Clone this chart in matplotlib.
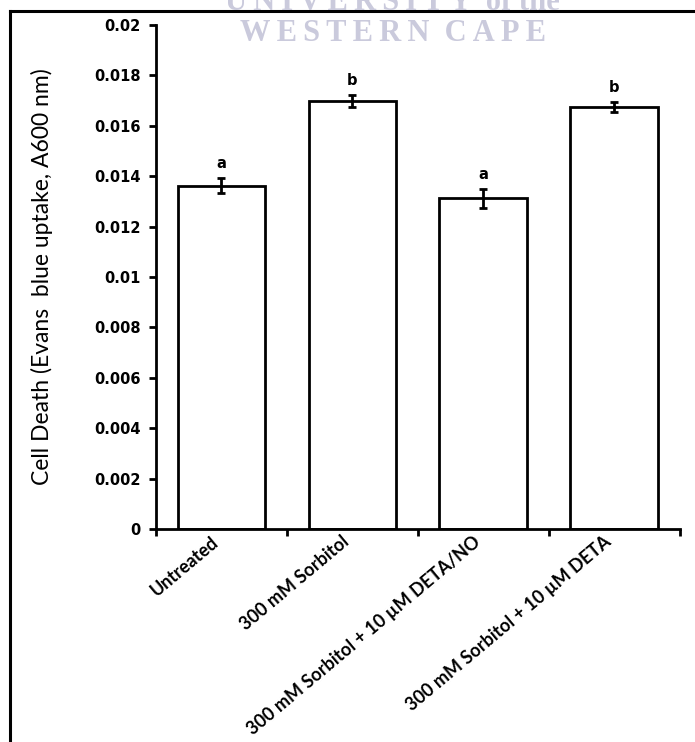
import matplotlib
matplotlib.use("Agg")
import matplotlib.pyplot as plt
import matplotlib.transforms as mtransforms
from matplotlib.lines import Line2D
import numpy as np

# data
categories = ["Untreated", "300 mM Sorbitol", "300 mM Sorbitol + 10 \u00b5M DETA/NO",
              "300 mM Sorbitol + 10 \u00b5M DETA"]
means = [0.01362, 0.01700, 0.01313, 0.01676]
errors = [0.00030, 0.00024, 0.00038, 0.00020]
letters = ["a", "b", "a", "b"]
yticks = [0, 0.002, 0.004, 0.006, 0.008, 0.01, 0.012, 0.014, 0.016, 0.018, 0.02]
ytick_labels = ["0", "0.002", "0.004", "0.006", "0.008", "0.01", "0.012",
                "0.014", "0.016", "0.018", "0.02"]

fig = plt.figure(figsize=(6.95, 7.42), dpi=100)
ax = fig.add_axes([0.2245, 0.287, 0.7535, 0.6793])

x = np.arange(len(categories))
ax.bar(x, means, width=0.67, color="white", edgecolor="black", linewidth=2, zorder=2)
ax.errorbar(x, means, yerr=errors, fmt="none", ecolor="black", elinewidth=2,
            capsize=2.6, capthick=2, zorder=3)
for xi, m, e, l in zip(x, means, errors, letters):
    ax.text(xi, m + e + 0.00028, l, ha="center", va="bottom",
            fontsize=10.5, fontweight="bold", family="DejaVu Sans")

ax.set_xlim(-0.5, len(categories) - 0.5)
ax.set_ylim(0, 0.02)
ax.set_yticks(yticks)
ax.set_yticklabels(ytick_labels, fontsize=10.5, fontweight="bold", family="DejaVu Sans")
ax.set_xticks(x)
ax.set_xticklabels(categories, rotation=40, ha="right", rotation_mode="anchor",
                   fontsize=13, fontweight="bold", family="Lato")
ax.tick_params(axis="x", length=0, pad=3)
# nudge the rotated labels a little to the left
shift = mtransforms.ScaledTranslation(-8 / 72, 0, fig.dpi_scale_trans)
for lab in ax.get_xticklabels():
    lab.set_transform(lab.get_transform() + shift)
ax.set_xticks(np.arange(-0.5, len(categories)), minor=True)
ax.tick_params(axis="x", which="minor", direction="out", length=5, width=2)
ax.tick_params(axis="y", direction="out", length=5, width=2, pad=6)

for s in ["top", "right"]:
    ax.spines[s].set_visible(False)
for s in ["left", "bottom"]:
    ax.spines[s].set_linewidth(2)

ax.set_ylabel("Cell Death (Evans  blue uptake, A600 nm)", fontsize=16.5, family="Lato")
ax.yaxis.set_label_coords(-0.197, 0.5)

# watermark
fig.text(0.565, 0.9865, "U\u2009N\u2009I\u2009V\u2009E\u2009R\u2009S\u2009I\u2009T\u2009Y  of the",
         ha="center", va="baseline", fontsize=22, fontweight="bold",
         family="Liberation Serif", color="#cacadc")
fig.text(0.565, 0.945, "W\u2009E\u2009S\u2009T\u2009E\u2009R\u2009N  C\u2009A\u2009P\u2009E",
         ha="center", va="baseline", fontsize=22, fontweight="bold",
         family="Liberation Serif", color="#cacadc")

# page border lines
fig.add_artist(Line2D([0.0145, 1.0], [0.985, 0.985], color="black", linewidth=2.2))
fig.add_artist(Line2D([0.0145, 0.0145], [0.0, 0.985], color="black", linewidth=2.2))

fig.savefig("out.png", dpi=100)
